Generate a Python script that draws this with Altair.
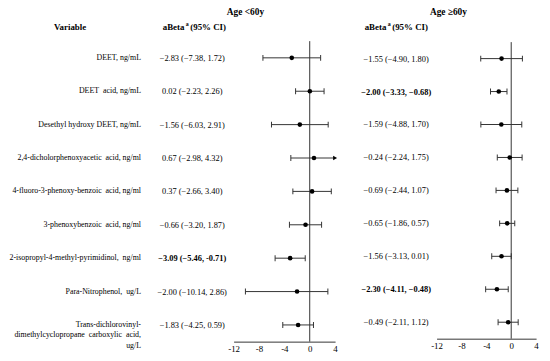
import altair as alt
import pandas as pd

FONT = "Liberation Serif"
INK = "#333333"

variables = [
    "DEET, ng/mL",
    "DEET\u00a0 acid, ng/mL",
    "Desethyl hydroxy DEET, ng/mL",
    "2,4-dicholorphenoxyacetic\u00a0 acid, ng/ml",
    "4-fluoro-3-phenoxy-benzoic\u00a0 acid, ng/ml",
    "3-phenoxybenzoic\u00a0 acid, ng/ml",
    "2-isopropyl-4-methyl-pyrimidinol,\u00a0 ng/ml",
    "Para-Nitrophenol,\u00a0 ug/L",
    "Trans-dichlorovinyl-\ndimethylcyclopropane\u00a0 carboxylic\u00a0 acid,\nug/L",
]

young_est = [-2.83, 0.02, -1.56, 0.67, 0.37, -0.66, -3.09, -2.00, -1.83]
young_lo = [-7.38, -2.23, -6.03, -2.98, -2.66, -3.20, -5.46, -10.14, -4.25]
young_hi = [1.72, 2.26, 2.91, 4.32, 3.40, 1.87, -0.71, 2.86, 0.59]
young_text = [
    "−2.83 (−7.38, 1.72)", "0.02 (−2.23, 2.26)", "−1.56 (−6.03, 2.91)",
    "0.67 (−2.98, 4.32)", "0.37 (−2.66, 3.40)", "−0.66 (−3.20, 1.87)",
    "−3.09 (−5.46, -0.71)", "−2.00 (−10.14, 2.86)", "−1.83 (−4.25, 0.59)",
]
young_sig = [False, False, False, False, False, False, True, False, False]

old_est = [-1.55, -2.00, -1.59, -0.24, -0.69, -0.65, -1.56, -2.30, -0.49]
old_lo = [-4.90, -3.33, -4.88, -2.24, -2.44, -1.86, -3.13, -4.11, -2.11]
old_hi = [1.80, -0.68, 1.70, 1.75, 1.07, 0.57, 0.01, -0.48, 1.12]
old_text = [
    "−1.55 (−4.90, 1.80)", "−2.00 (−3.33, −0.68)", "−1.59 (−4.88, 1.70)",
    "−0.24 (−2.24, 1.75)", "−0.69 (−2.44, 1.07)", "−0.65 (−1.86, 0.57)",
    "−1.56 (−3.13, 0.01)", "−2.30 (−4.11, −0.48)", "−0.49 (−2.11, 1.12)",
]
old_sig = [False, True, False, False, False, False, False, True, False]

axis_ticks = [-12, -8, -4, 0, 4]


def panel(est, lo, hi, text, sig, x_range, y_range, text_x, axis_offset, with_labels):
    xmin, xmax = axis_ticks[0], axis_ticks[-1]
    n = len(variables)
    df = pd.DataFrame({
        "row": list(range(n)), "est": est, "lo": lo, "hi": hi,
        "ci": text, "sig": sig, "label": variables,
    })
    df["lo_c"] = df["lo"].clip(lower=xmin)
    df["hi_c"] = df["hi"].clip(upper=xmax)
    caps = pd.concat([
        df.loc[df["lo"] >= xmin, ["row"]].assign(v=df.loc[df["lo"] >= xmin, "lo"]),
        df.loc[df["hi"] <= xmax, ["row"]].assign(v=df.loc[df["hi"] <= xmax, "hi"]),
    ])
    arrows = df[df["hi"] > xmax]

    xs = alt.Scale(domain=[xmin, xmax], range=x_range, nice=False, zero=False)
    ys = alt.Scale(domain=[-0.5, n - 0.5], range=y_range, nice=False, zero=False)
    xaxis = alt.Axis(
        values=axis_ticks, orient="bottom", offset=axis_offset, ticks=False, grid=False,
        domainColor=INK, domainWidth=1, labelFont=FONT, labelFontSize=9,
        labelColor="black", labelPadding=3, labelExpr="'' + datum.value",
        labelFlush=False, labelOverlap=False, title=None,
    )
    yenc = alt.Y("row:Q", scale=ys, axis=None)

    zero = alt.Chart(pd.DataFrame({"z": [0]})).mark_rule(color=INK, strokeWidth=1).encode(
        x=alt.X("z:Q", scale=xs, axis=xaxis),
        y=alt.YDatum(-0.5, scale=ys, axis=None),
        y2=alt.Y2Datum(n - 0.5),
    )
    ci = alt.Chart(df).mark_rule(color=INK, strokeWidth=1).encode(
        x=alt.X("lo_c:Q", scale=xs, axis=xaxis), x2="hi_c:Q", y=yenc,
    )
    cap = alt.Chart(caps).mark_tick(orient="vertical", size=6, thickness=1, color=INK, opacity=1).encode(
        x=alt.X("v:Q", scale=xs, axis=xaxis), y=yenc,
    )
    pts = alt.Chart(df).mark_circle(size=22, color="black", opacity=1).encode(
        x=alt.X("est:Q", scale=xs, axis=xaxis), y=yenc,
    )
    layers = [zero, ci, cap, pts]
    if len(arrows):
        layers.append(
            alt.Chart(arrows).mark_point(shape="triangle-right", filled=True, size=22,
                                         color="black", opacity=1).encode(
                x=alt.X("hi_c:Q", scale=xs, axis=xaxis), y=yenc,
            )
        )
    txt_reg = alt.Chart(df).transform_filter("!datum.sig").mark_text(
        font=FONT, fontSize=8.5, align="center", baseline="middle", color="black"
    ).encode(x=alt.value(text_x), y=yenc, text="ci:N")
    txt_bold = alt.Chart(df).transform_filter("datum.sig").mark_text(
        font=FONT, fontSize=8.5, fontWeight="bold", align="center", baseline="middle", color="black"
    ).encode(x=alt.value(text_x), y=yenc, text="ci:N")
    layers += [txt_reg, txt_bold]
    if with_labels:
        layers.append(
            alt.Chart(df).mark_text(
                font=FONT, fontSize=8, align="right", baseline="middle", color="black",
                lineBreak="\n", lineHeight=10.5,
            ).encode(x=alt.value(135), y=yenc, text="label:N")
        )
    return alt.layer(*layers)


def htext(txt, x, y, size=9, align="center", weight="bold", baseline="middle"):
    return alt.Chart(pd.DataFrame({"t": [txt]})).mark_text(
        font=FONT, fontSize=size, fontWeight=weight, align=align, baseline=baseline, color="black"
    ).encode(x=alt.value(x), y=alt.value(y), text="t:N")


def beta_header(xc, y):
    return [
        htext("aBeta", xc - 10, y, align="right"),
        htext("a", xc - 8.5, y - 3, size=6, align="left"),
        htext("(95% CI)", xc - 4, y, align="left"),
    ]


left = panel(young_est, young_lo, young_hi, young_text, young_sig,
             [229, 332], [31, 336], 187, 0, True)
right = panel(old_est, old_lo, old_hi, old_text, old_sig,
              [435, 536], [32, 333], 394, -3, False)

headers = alt.layer(
    htext("Age <60y", 241, 4, size=9.5, baseline="alphabetic"),
    htext("Age ≥60y", 447, 4, size=9.5, baseline="alphabetic"),
    htext("Variable", 63, 17),
    *beta_header(189, 17),
    *beta_header(394, 17),
)

chart = alt.layer(left, right, headers).resolve_scale(
    x="independent", y="independent"
).properties(
    width=534, height=336,
    autosize=alt.AutoSizeParams(type="none"),
    padding={"left": 0, "top": 0, "right": 8, "bottom": 17},
).configure_view(stroke=None)

chart.save("out.html", embed_options={"renderer": "svg", "actions": False})
